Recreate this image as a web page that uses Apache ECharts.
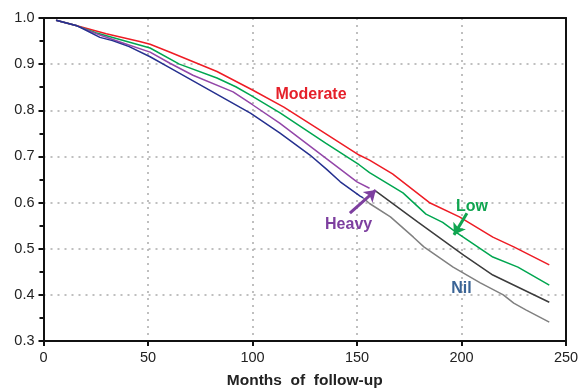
<!DOCTYPE html>
<html><head><meta charset="utf-8">
<script src="https://cdn.jsdelivr.net/npm/echarts@6/dist/echarts.min.js"></script>
<style>html,body{margin:0;padding:0;background:#fff}#c{width:579px;height:390px}</style>
</head><body><div id="c"></div>
<script>
// months / survival pairs
var moderate = [[6,0.995],[16,0.983],[30,0.966],[46,0.949],[51,0.943],[60,0.927],[83,0.884],[100,0.844],[115,0.807],[131,0.761],[151,0.703],[156,0.692],[167,0.662],[185,0.599],[199,0.569],[215,0.525],[225,0.504],[242,0.465]];
var low = [[6,0.995],[16,0.983],[25,0.968],[51,0.935],[65,0.900],[83,0.870],[92,0.851],[99,0.833],[113,0.795],[135,0.729],[151,0.682],[156,0.665],[172,0.621],[183,0.575],[191,0.557],[198,0.534],[215,0.482],[227,0.460],[242,0.421]];
var heavyEarly = [[6,0.995],[16,0.983],[27,0.963],[38,0.946],[51,0.926],[60.5,0.902],[71.5,0.876],[90.7,0.840],[100,0.812],[113,0.772],[150,0.645],[156,0.631]];
var heavyLate = [[159,0.625],[179,0.558],[201,0.486],[215,0.443],[242,0.384]];
var nilEarly = [[6,0.995],[16,0.983],[17.5,0.980],[27,0.958],[33,0.951],[41,0.938],[51,0.916],[60.5,0.892],[99,0.794],[113,0.751],[127.5,0.703],[135.5,0.672],[142,0.645],[151.5,0.614],[153,0.610]];
var nilLate = [[153,0.610],[156,0.598],[166,0.569],[177,0.525],[182,0.504],[196,0.460],[209,0.426],[220,0.400],[225,0.382],[231,0.367],[242,0.341]];
var xTicks = [0,50,100,150,200,250];
var yTicks = [0.3,0.4,0.5,0.6,0.7,0.8,0.9,1.0];
var labels = [
  {text:'Moderate', at:[128,0.835], color:'#e5202a'},
  {text:'Heavy', at:[146,0.553], color:'#7d3f9f'},
  {text:'Low', at:[205,0.592], color:'#10a550'},
  {text:'Nil', at:[200,0.413], color:'#3a6496'}
];
var arrows = [
  {from:[146.6,0.577], to:[159,0.627], color:'#7d3f9f'},
  {from:[202.6,0.577], to:[196.4,0.530], color:'#10a550'}
];

var chart = echarts.init(document.getElementById('c'));
var font = 'Liberation Sans, Arial, sans-serif';
function line(data, color){
  return {type:'line', data:data, showSymbol:false, symbol:'none', lineStyle:{color:color, width:1.5}, animation:false, z:3};
}
var series = [
  line(moderate,'#ee1c25'),
  line(low,'#00a650'),
  line(heavyEarly,'#9346a8'),
  line(heavyLate,'#3c3c3c'),
  line(nilEarly,'#25308f'),
  line(nilLate,'#808080')
];
arrows.forEach(function(a){
  series.push({type:'lines', coordinateSystem:'cartesian2d', animation:false, z:5,
    symbol:['none','arrow'], symbolSize:11,
    lineStyle:{color:a.color, width:3, opacity:1},
    data:[{coords:[a.from,a.to]}]});
});
var split = {show:true, lineStyle:{color:'#aaa', type:[2,5], width:1.5}};
chart.setOption({
  animation:false,
  grid:{left:43.5, right:13, top:18, bottom:49, containLabel:false, outerBoundsMode:'none'},
  xAxis:[{type:'value', min:0, max:250, interval:50,
    axisLine:{show:true, onZero:false, lineStyle:{color:'#111', width:2}},
    axisTick:{show:true, length:5, lineStyle:{color:'#111', width:2}},
    axisLabel:{color:'#222', fontSize:14.5, fontFamily:font, margin:9,
      formatter:function(v){return xTicks.indexOf(v)>=0 ? String(v) : '';}},
    splitLine:split,
    name:'Months  of  follow-up', nameLocation:'middle', nameGap:32,
    nameTextStyle:{color:'#222', fontSize:15.5, fontWeight:'bold', fontFamily:font}
  },{type:'value', position:'top', min:0, max:250, interval:50,
    axisLine:{show:true, onZero:false, lineStyle:{color:'#111', width:2}},
    axisTick:{show:false}, axisLabel:{show:false}, splitLine:{show:false}}],
  yAxis:[{type:'value', min:0.3, max:1.0, interval:0.1,
    axisLine:{show:true, onZero:false, lineStyle:{color:'#111', width:2}},
    axisTick:{show:true, length:5, lineStyle:{color:'#111', width:2}},
    minorTick:{show:true, splitNumber:2, length:4, lineStyle:{color:'#111', width:2}},
    axisLabel:{color:'#222', fontSize:14.5, fontFamily:font, margin:9,
      formatter:function(v){return v.toFixed(1);}},
    splitLine:split
  },{type:'value', position:'right', min:0.3, max:1.0, interval:0.1,
    axisLine:{show:true, onZero:false, lineStyle:{color:'#111', width:2}},
    axisTick:{show:false}, axisLabel:{show:false}, splitLine:{show:false}}],
  series:series
});
var g = labels.map(function(l){
  var p = chart.convertToPixel({gridIndex:0}, l.at);
  return {type:'text', x:p[0], y:p[1], z:10, style:{text:l.text, fill:l.color, font:'bold 16px '+font, textAlign:'center', textVerticalAlign:'middle'}};
});
chart.setOption({graphic:g});
</script>
</body></html>
